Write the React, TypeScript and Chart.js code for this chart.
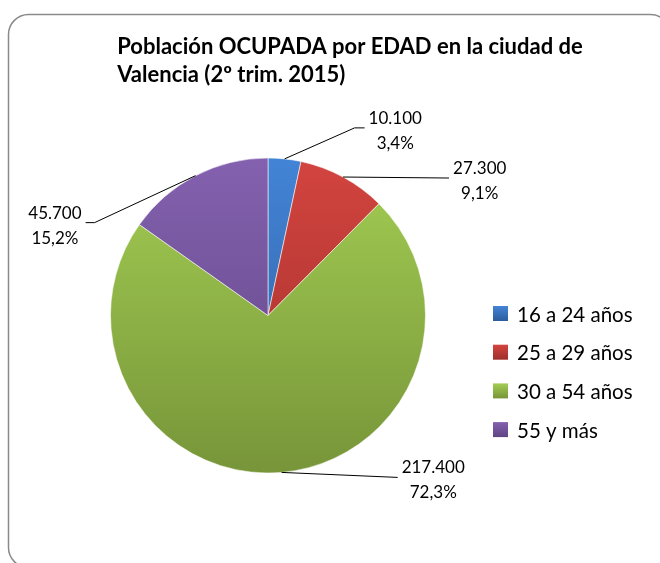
import React, { useEffect, useRef } from "react";
import { Chart, registerables } from "chart.js";

Chart.register(...registerables);

// ---- data ----
const titleLines = ["Población OCUPADA por EDAD en la ciudad de", "Valencia (2º trim. 2015)"];
const categories = ["16 a 24 años", "25 a 29 años", "30 a 54 años", "55 y más"];
const values = [10100, 27300, 217400, 45700];

// ---- styles ----
const topColors = ["#4384D6", "#D3443F", "#A3CD53", "#8461AF"];
const bottomColors = ["#2D5C9C", "#9F2E2B", "#779539", "#5F4583"];
// leader line layout: elbow offset from slice edge, then horizontal tail
const leaderLayout = [
  { ex: 70, ey: -31, tail: 10 },
  { ex: 106, ey: 1, tail: 0 },
  { ex: 116, ey: 5, tail: 0 },
  { ex: -101, ey: 47, tail: -9 },
];

const LABEL_FONT = "17px Lato, 'Open Sans', sans-serif";
const LEGEND_FONT = "20.5px Lato, 'Open Sans', sans-serif";
const TITLE_FONT = "bold 22px Lato, 'Open Sans', sans-serif";

const fmtThousands = (v: number) => String(v).replace(/\B(?=(\d{3})+(?!\d))/g, ".");

function gradFor(ctx: CanvasRenderingContext2D, i: number, y0: number, y1: number) {
  const g = ctx.createLinearGradient(0, y0, 0, y1);
  g.addColorStop(0, topColors[i]);
  g.addColorStop(1, bottomColors[i]);
  return g;
}

const decorPlugin = {
  id: "decor",
  beforeDraw(chart: any) {
    const ctx = chart.ctx as CanvasRenderingContext2D;
    ctx.save();
    ctx.fillStyle = "#ffffff";
    ctx.fillRect(0, 0, chart.width, chart.height);
    // frame
    const x = 8.5, y = 14.5, w = 662, h = 553, r = 20;
    ctx.beginPath();
    ctx.moveTo(x + r, y);
    ctx.lineTo(x + w - r, y);
    ctx.arcTo(x + w, y, x + w, y + r, r);
    ctx.lineTo(x + w, y + h - r);
    ctx.arcTo(x + w, y + h, x + w - r, y + h, r);
    ctx.lineTo(x + r, y + h);
    ctx.arcTo(x, y + h, x, y + h - r, r);
    ctx.lineTo(x, y + r);
    ctx.arcTo(x, y, x + r, y, r);
    ctx.closePath();
    ctx.strokeStyle = "#8a8a8a";
    ctx.lineWidth = 1.5;
    ctx.stroke();

    // title (block centred, lines left-aligned)
    ctx.font = TITLE_FONT;
    ctx.fillStyle = "#000000";
    ctx.textBaseline = "alphabetic";
    ctx.textAlign = "left";
    const maxW = Math.max(...titleLines.map((t) => ctx.measureText(t).width));
    const tx = 350 - maxW / 2;
    titleLines.forEach((t, i) => ctx.fillText(t, tx, 54 + i * 28));

    // legend
    ctx.font = LEGEND_FONT;
    categories.forEach((c, i) => {
      const yy = 306 + i * 38.7;
      ctx.fillStyle = gradFor(ctx, i, yy, yy + 15);
      ctx.fillRect(493, yy, 15, 15);
      ctx.fillStyle = "#000000";
      ctx.fillText(c, 517, yy + 15.5);
    });
    ctx.restore();
  },
  afterDatasetsDraw(chart: any) {
    const ctx = chart.ctx as CanvasRenderingContext2D;
    const meta = chart.getDatasetMeta(0);
    const total = values.reduce((a, b) => a + b, 0);
    ctx.save();
    ctx.font = LABEL_FONT;
    ctx.textBaseline = "alphabetic";
    meta.data.forEach((arc: any, i: number) => {
      const p = arc.getProps(["x", "y", "startAngle", "endAngle", "outerRadius"], true);
      const mid = (p.startAngle + p.endAngle) / 2;
      const ax = p.x + Math.cos(mid) * p.outerRadius;
      const ay = p.y + Math.sin(mid) * p.outerRadius;
      const L = leaderLayout[i];
      const ex = ax + L.ex, ey = ay + L.ey;
      const fx = ex + L.tail;
      ctx.beginPath();
      ctx.moveTo(ax, ay);
      ctx.lineTo(ex, ey);
      if (L.tail) ctx.lineTo(fx, ey);
      ctx.strokeStyle = "#000000";
      ctx.lineWidth = 1;
      ctx.stroke();

      const l1 = fmtThousands(values[i]);
      const l2 = (values[i] / total * 100).toFixed(1).replace(".", ",") + "%";
      const mw = Math.max(ctx.measureText(l1).width, ctx.measureText(l2).width);
      const right = L.ex + L.tail >= 0;
      const cx = right ? fx + 4 + mw / 2 : fx - 4 - mw / 2;
      ctx.textAlign = "center";
      ctx.fillStyle = "#000000";
      ctx.fillText(l1, cx, ey - 4);
      ctx.fillText(l2, cx, ey + 21);
    });
    ctx.restore();
  },
};

export default function App() {
  const ref = useRef<HTMLCanvasElement | null>(null);
  useEffect(() => {
    document.body.style.margin = "0";
    document.body.style.overflow = "hidden";
    const canvas = ref.current!;
    const chart = new Chart(canvas, {
      type: "pie",
      data: {
        labels: categories,
        datasets: [
          {
            data: values,
            backgroundColor: (c: any) => {
              const area = c.chart.chartArea;
              if (!area) return topColors[c.dataIndex];
              return gradFor(c.chart.ctx, c.dataIndex, area.top, area.bottom);
            },
            borderColor: "rgba(255,255,255,0.55)",
            borderWidth: 1,
          },
        ],
      },
      options: {
        responsive: false,
        animation: false,
        events: [],
        layout: { padding: { left: 110, right: 234, top: 157, bottom: 89 } },
        plugins: {
          legend: { display: false },
          title: { display: false },
          tooltip: { enabled: false },
        },
      },
      plugins: [decorPlugin],
    });
    return () => chart.destroy();
  }, []);
  return <canvas ref={ref} width={660} height={563} style={{ display: "block" }} />;
}
